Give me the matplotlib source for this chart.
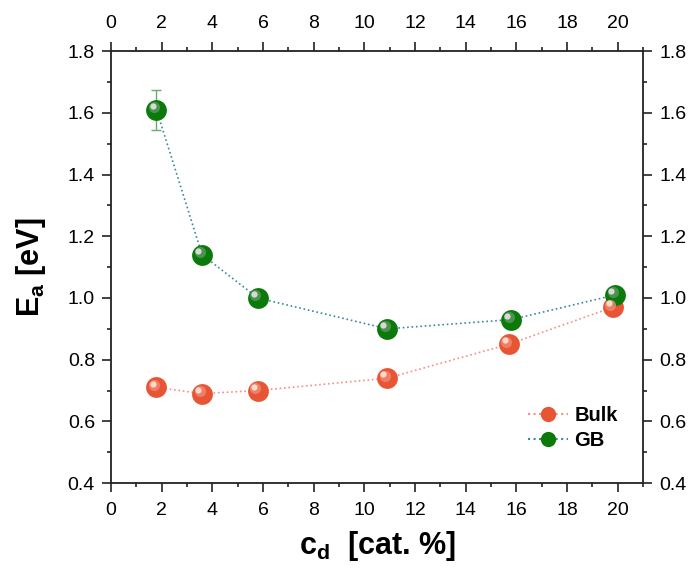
import matplotlib
matplotlib.use("Agg")
import matplotlib.pyplot as plt
import matplotlib.transforms as mtransforms
from matplotlib.ticker import MultipleLocator
from matplotlib.lines import Line2D

plt.rcParams['font.family'] = ['Liberation Sans', 'DejaVu Sans']
plt.rcParams['mathtext.fontset'] = 'custom'
plt.rcParams['mathtext.rm'] = 'Liberation Sans'
plt.rcParams['mathtext.bf'] = 'Liberation Sans:bold'
plt.rcParams['mathtext.it'] = 'Liberation Sans:italic'

bulk_x = [1.8, 3.6, 5.8, 10.9, 15.7, 19.8]
bulk_y = [0.71, 0.69, 0.70, 0.74, 0.85, 0.97]
gb_x = [1.8, 3.6, 5.8, 10.9, 15.8, 19.9]
gb_y = [1.61, 1.14, 1.00, 0.90, 0.93, 1.01]
gb_err = [0.065, 0, 0, 0, 0, 0]
x_ticks = [0, 2, 4, 6, 8, 10, 12, 14, 16, 18, 20]
y_ticks = [0.4, 0.6, 0.8, 1.0, 1.2, 1.4, 1.6, 1.8]

fig = plt.figure(figsize=(6.93, 5.69), dpi=100)
ax = fig.add_axes([0.160, 0.151, 0.768, 0.759])

ax.errorbar(gb_x[:1], gb_y[:1], yerr=gb_err[:1], fmt='none', ecolor='#6aaa6a',
            elinewidth=1, capsize=3.5, capthick=1, zorder=2)
ax.plot(bulk_x, bulk_y, linestyle=':', color='#f29088', linewidth=1.2, zorder=1)
ax.plot(gb_x, gb_y, linestyle=':', color='#3a8a9a', linewidth=1.2, zorder=1)

hl1 = mtransforms.offset_copy(ax.transData, fig=fig, x=-1.8, y=1.8, units='points')
hl2 = mtransforms.offset_copy(ax.transData, fig=fig, x=-2.8, y=2.8, units='points')
for xs, ys, col, mcol, hcol in [(bulk_x, bulk_y, '#e85535', '#f08a70', '#fbd8cc'),
                                (gb_x, gb_y, '#0b7a0b', '#5a9a5a', '#d8d8d8')]:
    ax.plot(xs, ys, 'o', color=col, markersize=15, markeredgewidth=0, zorder=3)
    ax.plot(xs, ys, 'o', color=mcol, markersize=8, markeredgewidth=0, alpha=0.8,
            transform=hl1, zorder=4)
    ax.plot(xs, ys, 'o', color=hcol, markersize=4.5, markeredgewidth=0,
            transform=hl2, zorder=5)

handles = [Line2D([], [], linestyle=':', color='#f29088', marker='o', markersize=11,
                  markerfacecolor='#e85535', markeredgewidth=0),
           Line2D([], [], linestyle=':', color='#3a8a9a', marker='o', markersize=11,
                  markerfacecolor='#0b7a0b', markeredgewidth=0)]
leg = ax.legend(handles, ['Bulk', 'GB'], loc='center left', bbox_to_anchor=(0.784, 0.127),
                frameon=False, prop={'weight': 'bold', 'size': 14.5}, handlelength=2.0,
                handletextpad=0.3, labelspacing=0.3, borderpad=0, borderaxespad=0)

ax.set_xlim(0, 21)
ax.set_ylim(0.4, 1.8)
ax.set_xticks(x_ticks)
ax.set_yticks(y_ticks)
ax.set_yticklabels([f'{v:.1f}' for v in y_ticks])
ax.xaxis.set_minor_locator(MultipleLocator(1))
ax.yaxis.set_minor_locator(MultipleLocator(0.1))
ax.tick_params(which='both', direction='out', top=True, right=True,
               labeltop=True, labelright=True, labelsize=14, width=1.2, color='#222222')
ax.tick_params(which='major', length=6.5)
ax.tick_params(which='minor', length=3.2)
ax.tick_params(axis='x', which='major', pad=7)
ax.tick_params(axis='y', which='major', pad=5)
for s in ax.spines.values():
    s.set_linewidth(1.3)
    s.set_color('#222222')

ax.set_xlabel(r'$\mathbf{c_d}$  [cat. %]', fontsize=22, fontweight='bold', labelpad=7)
ax.set_ylabel(r'$\mathbf{E_a}$ [eV]', fontsize=22, fontweight='bold', labelpad=14)

fig.savefig('out.png', dpi=100)
